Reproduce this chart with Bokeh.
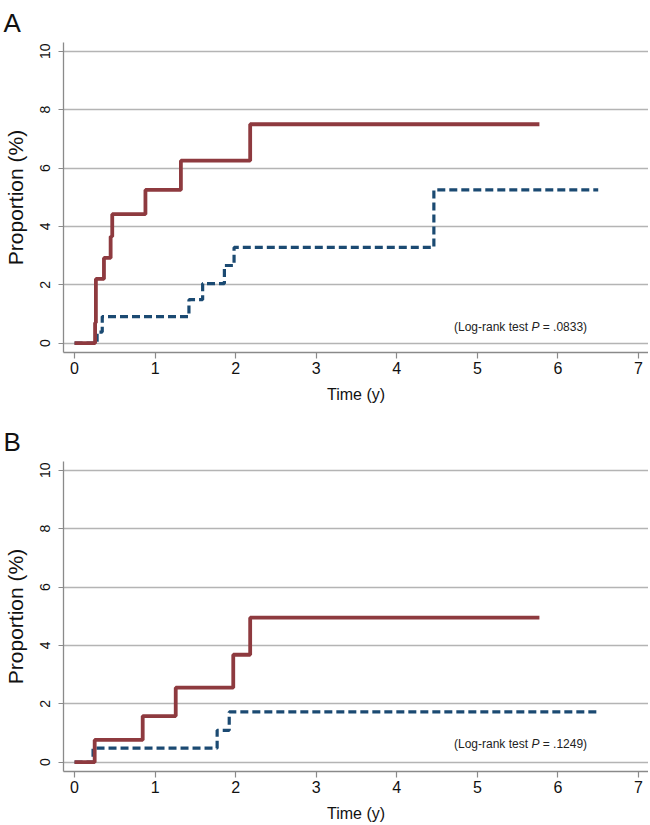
from bokeh.plotting import figure
from bokeh.models import Range1d, FixedTicker, Label
from bokeh.layouts import column
from bokeh.embed import file_html
from bokeh.resources import INLINE

# ---- data ----
x_ticks = [0, 1, 2, 3, 4, 5, 6, 7]
y_ticks = [0, 2, 4, 6, 8, 10]

a_red_time = [0, 0.255, 0.265, 0.365, 0.448, 0.468, 0.88, 1.32, 2.18, 5.77]
a_red_prop = [0, 0.7, 2.2, 2.92, 3.65, 4.42, 5.25, 6.25, 7.5, 7.5]
a_blue_time = [0, 0.28, 0.344, 1.42, 1.59, 1.86, 1.98, 4.46, 6.5]
a_blue_prop = [0, 0.38, 0.91, 1.49, 2.04, 2.66, 3.28, 5.25, 5.25]
a_pvalue = ".0833"

b_red_time = [0, 0.25, 0.846, 1.256, 1.97, 2.18, 5.77]
b_red_prop = [0, 0.76, 1.58, 2.55, 3.68, 4.95, 4.95]
b_blue_time = [0, 0.23, 1.77, 1.92, 6.5]
b_blue_prop = [0, 0.48, 1.09, 1.72, 1.72]
b_pvalue = ".1249"

FONT = "Liberation Sans"
RED = "#8e3a3f"
BLUE = "#1b4a72"
GRID = "#b4b4b4"
AXIS = "#8a8a8a"


def make_panel(letter, red_t, red_y, blue_t, blue_y, pval, pval_y,
               top, height, bottom):
    p = figure(width=648, height=height, output_backend="svg", toolbar_location=None,
               x_range=Range1d(-0.137, 7.124), y_range=Range1d(-0.32, 10.30),
               min_border_left=63, min_border_right=0,
               min_border_top=top, min_border_bottom=bottom)
    p.outline_line_color = None
    p.background_fill_color = "white"
    p.border_fill_color = "white"

    # panel letter as title
    p.title.text = letter
    p.title.text_font = FONT
    p.title.text_font_size = "26px"
    p.title.text_font_style = "normal"
    p.title.text_color = "#111111"
    p.title.align = "left"
    p.title.offset = -60
    p.title.standoff = 10

    # grid
    p.xgrid.visible = False
    p.ygrid.ticker = FixedTicker(ticks=y_ticks)
    p.ygrid.grid_line_color = GRID
    p.ygrid.grid_line_width = 1.4

    # x axis
    xa = p.xaxis[0]
    xa.ticker = FixedTicker(ticks=x_ticks)
    xa.axis_label = "Time (y)"
    xa.axis_label_text_font = FONT
    xa.axis_label_text_font_size = "16px"
    xa.axis_label_text_font_style = "normal"
    xa.axis_label_text_color = "#111111"
    xa.axis_label_standoff = 9
    xa.major_label_text_font = FONT
    xa.major_label_text_font_size = "16px"
    xa.major_label_text_color = "#111111"
    xa.major_label_standoff = 3
    xa.major_tick_in = 0
    xa.major_tick_out = 6
    xa.minor_tick_in = 0
    xa.minor_tick_out = 0
    xa.axis_line_color = AXIS
    xa.axis_line_width = 1.3
    xa.major_tick_line_color = AXIS
    xa.major_tick_line_width = 1.2

    # y axis
    ya = p.yaxis[0]
    ya.ticker = FixedTicker(ticks=y_ticks)
    ya.axis_label = "Proportion (%)"
    ya.axis_label_text_font = FONT
    ya.axis_label_text_font_size = "21px"
    ya.axis_label_text_font_style = "normal"
    ya.axis_label_text_color = "#111111"
    ya.axis_label_standoff = 11
    ya.major_label_text_font = FONT
    ya.major_label_text_font_size = "14px"
    ya.major_label_text_color = "#111111"
    ya.major_label_orientation = "vertical"
    ya.major_label_standoff = 8
    ya.major_tick_in = 0
    ya.major_tick_out = 5
    ya.minor_tick_in = 0
    ya.minor_tick_out = 0
    ya.axis_line_color = AXIS
    ya.axis_line_width = 1.3
    ya.major_tick_line_color = AXIS
    ya.major_tick_line_width = 1.2

    # curves
    p.step(x=blue_t, y=blue_y, mode="after", line_color=BLUE, line_width=3.2,
           line_dash="8 4", line_cap="butt")
    p.step(x=red_t, y=red_y, mode="after", line_color=RED, line_width=3.8,
           line_cap="butt")

    # log-rank annotation: "(Log-rank test " + italic P + " = .xxxx)"
    px = 4.71
    p.add_layout(Label(x=px, y=pval_y, text="(Log-rank test", text_font=FONT,
                       text_font_size="12px", text_color="#222222",
                       text_align="left", text_baseline="middle"))
    p.add_layout(Label(x=px, y=pval_y, x_offset=77.4, text="P", text_font=FONT,
                       text_font_size="12px", text_font_style="italic",
                       text_color="#222222", text_align="left",
                       text_baseline="middle"))
    p.add_layout(Label(x=px, y=pval_y, x_offset=88.7, text="= " + pval + ")",
                       text_font=FONT, text_font_size="12px",
                       text_color="#222222", text_align="left",
                       text_baseline="middle"))
    return p


pa = make_panel("A", a_red_time, a_red_prop, a_blue_time, a_blue_prop,
                a_pvalue, 0.54, top=42, height=407, bottom=55)
pb = make_panel("B", b_red_time, b_red_prop, b_blue_time, b_blue_prop,
                b_pvalue, 0.62, top=54, height=418, bottom=54)

layout = column(pa, pb, spacing=0)
open("out.html", "w").write(file_html(layout, INLINE))
